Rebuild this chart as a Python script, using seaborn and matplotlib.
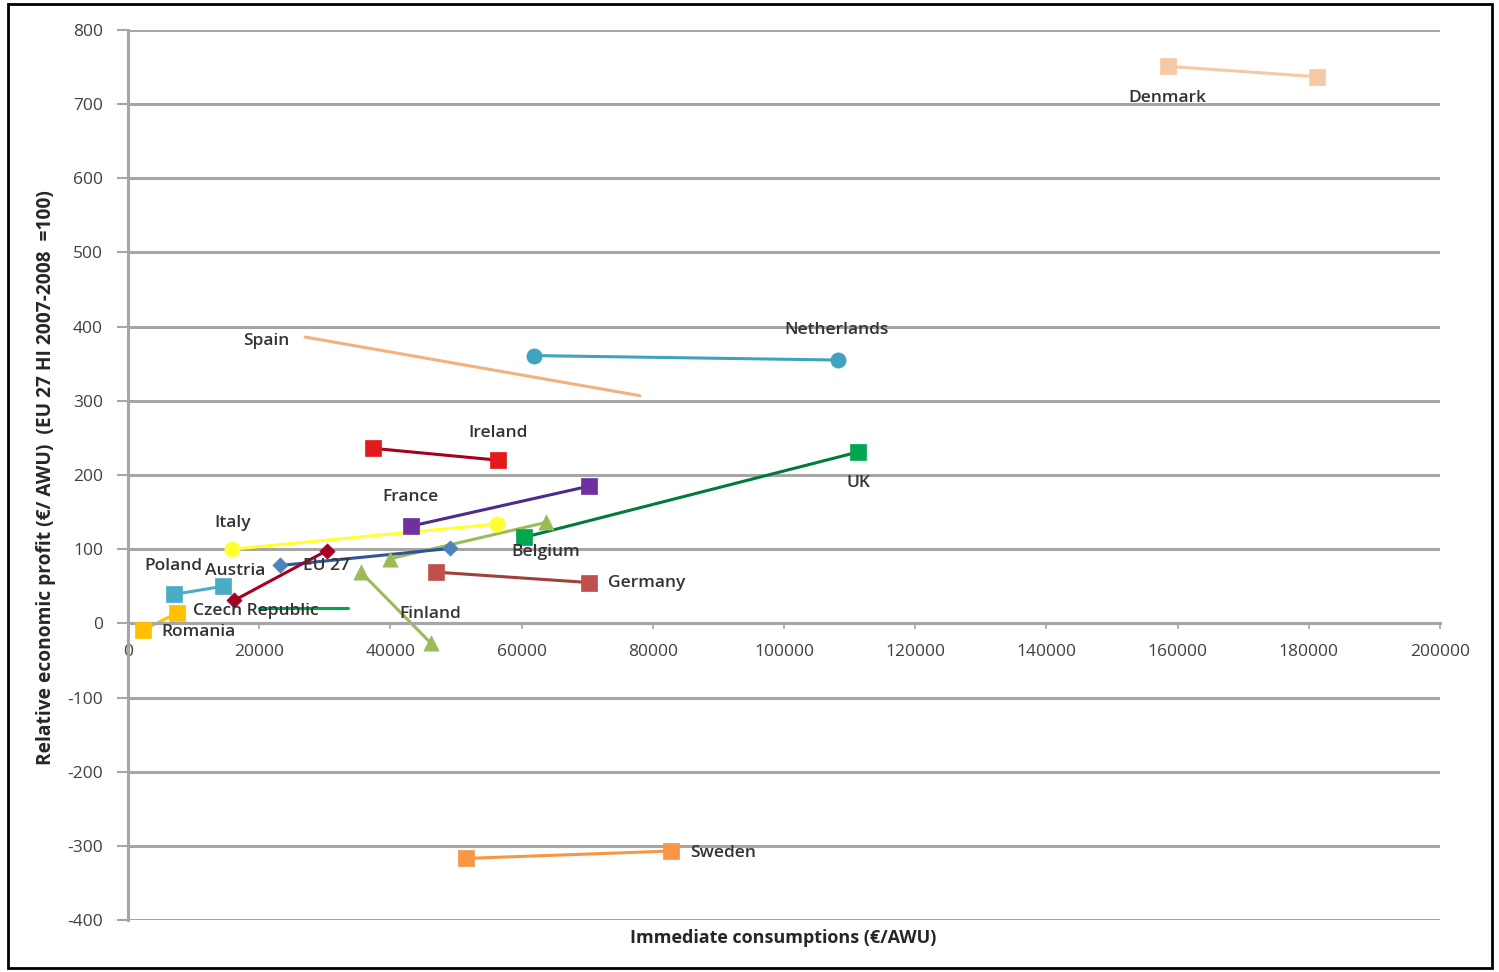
import matplotlib
matplotlib.use("Agg")
import matplotlib.pyplot as plt
import seaborn as sns
import pandas as pd

# series: country -> x values (immediate consumptions), y values (relative profit)
countries = ["Denmark", "Netherlands", "Spain", "Ireland", "France", "UK", "Italy",
             "Belgium", "Finland", "EU 27", "Austria", "Poland", "Czech Republic",
             "Romania", "Germany", "Sweden"]
x_values = [
    [158500, 181300],
    [61900, 108200],
    [27000, 78000],
    [37300, 56400],
    [43100, 70300],
    [60400, 111300],
    [15900, 56300],
    [39900, 63700],
    [35500, 46200],
    [23200, 49100],
    [16200, 30300],
    [7000, 14500],
    [20000, 33500],
    [2300, 7500],
    [47000, 70300],
    [51500, 82800],
]
y_values = [
    [751, 737],
    [361, 355],
    [386, 307],
    [236, 220],
    [131, 185],
    [116, 231],
    [100, 134],
    [87, 136],
    [69, -27],
    [78, 101],
    [31, 98],
    [39, 50],
    [21, 21],
    [-9, 14],
    [69, 55],
    [-317, -307],
]
colors = ["#F5C9A3", "#3FA3BE", "#F2B27E", "#E31A1C", "#7030A0", "#00A650", "#FFFF33",
          "#9BBB59", "#9BBB59", "#4F81BD", "#A50021", "#4BACC6", "#00A650",
          "#FFC000", "#C0504D", "#F79646"]
markers = ["s", "o", None, "s", "s", "s", "o", "^", "^", "D", "D", "s", None,
           "s", "s", "s"]
line_colors = ["#F5C9A3", "#3FA3BE", "#F2B27E", "#A50021", "#4B2C8A", "#007A3D", "#FFFF33",
               "#9BBB59", "#9BBB59", "#2F5597", "#A50021", "#4BACC6", "#00A650",
               "#FFC000", "#A0403D", "#F79646"]

# label positions (data coords)
label_x = [158500, 108000, 21000, 56400, 43000, 111300, 15900, 63700, 46000, 30200,
           16300, 6900, 19500, 10700, 79000, 90700]
label_y = [708, 395, 381, 257, 170, 189, 135, 96, 13, 77, 70, 77, 17, -12, 55, -309]

x_ticks = [0, 20000, 40000, 60000, 80000, 100000, 120000, 140000, 160000, 180000, 200000]
y_ticks = [-400, -300, -200, -100, 0, 100, 200, 300, 400, 500, 600, 700, 800]

sns.set_theme(style="white")
plt.rcParams["font.family"] = ["Open Sans", "DejaVu Sans"]

fig = plt.figure(figsize=(14.99, 9.72), dpi=100)
ax = fig.add_axes([128 / 1499, 52 / 972, 1312 / 1499, 890 / 972])

for yt in y_ticks:
    ax.axhline(yt, color="#A6A6A6", lw=2.2, zorder=0)

for i, name in enumerate(countries):
    df = pd.DataFrame({"x": x_values[i], "y": y_values[i]})
    sns.lineplot(data=df, x="x", y="y", color=line_colors[i], lw=2.2, sort=False,
                 ax=ax, zorder=2)
    if markers[i] is not None:
        sns.scatterplot(data=df, x="x", y="y", color=colors[i], marker=markers[i],
                        s=120 if markers[i] != "D" else 60, edgecolor=colors[i],
                        linewidth=0.5, ax=ax, zorder=3)
    ax.text(label_x[i], label_y[i], name, ha="center", va="center", fontsize=12.5,
            color="#333333", fontweight="semibold", zorder=4)

ax.set_xlim(0, 200000)
ax.set_ylim(-400, 800)
ax.set_xticks(x_ticks)
ax.set_yticks(y_ticks)
ax.set_xticklabels([str(v) for v in x_ticks])
ax.set_yticklabels([str(v) for v in y_ticks])
ax.tick_params(axis="y", labelsize=12.5, labelcolor="#404040", length=8, width=1.5,
               direction="out", color="#A6A6A6", pad=10, left=True)
ax.tick_params(axis="x", labelsize=12.5, labelcolor="#404040", length=4, width=1.2,
               direction="out", color="#A6A6A6", pad=11, bottom=True)

for side in ["top", "right"]:
    ax.spines[side].set_visible(False)
ax.spines["bottom"].set_position(("data", 0))
ax.spines["bottom"].set_color("#A6A6A6")
ax.spines["bottom"].set_linewidth(2.2)
ax.spines["left"].set_color("#A6A6A6")
ax.spines["left"].set_linewidth(2.2)

ax.set_xlabel("")
ax.set_ylabel("Relative economic profit (€/ AWU)  (EU 27 HI 2007-2008  =100)",
              fontsize=13.8, fontweight="bold", color="#262626")
ax.yaxis.set_label_coords((56 - 128) / 1312, 0.497)
fig.text(783 / 1499, 1 - 938 / 972, "Immediate consumptions (€/AWU)", ha="center",
         va="center", fontsize=13, fontweight="bold", color="#262626")

# outer frame
fig.patches.append(plt.Rectangle((8 / 1499, 4 / 972), 1484 / 1499, 964 / 972,
                                 transform=fig.transFigure, fill=False,
                                 edgecolor="black", lw=2))

fig.savefig("out.png", dpi=100)
